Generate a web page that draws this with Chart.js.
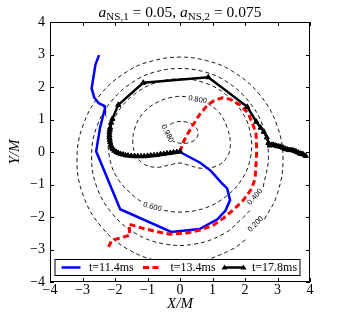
<!DOCTYPE html>
<html>
<head>
<meta charset="utf-8">
<script src="https://cdn.jsdelivr.net/npm/chart.js@4/dist/chart.umd.min.js"></script>
<style>
  html, body { margin: 0; padding: 0; background: #fff; }
</style>
</head>
<body>
<canvas id="chart" width="349" height="315"></canvas>
<script>
// axis range and ticks
const axisTicks = [-4, -3, -2, -1, 0, 1, 2, 3, 4];
const trackLabels = ['t=11.4ms', 't=13.4ms', 't=17.8ms'];

// star tracks, [x, y] in units of M
const track114 = [[-2.49,2.98],[-2.60,2.70],[-2.72,1.96],[-2.64,1.68],[-2.50,1.50],[-2.33,1.42],[-2.31,1.34],[-2.46,0.75],[-2.58,0.02],
  [-1.84,-1.76],[-0.27,-2.46],[0.60,-2.37],[1.15,-2.07],[1.40,-1.80],[1.54,-1.48],[1.45,-1.12],[1.27,-0.94],[0.95,-0.58],[0.62,-0.33],[0.0,0.0]];
const track134 = [[-2.20,-2.92],[-2.10,-2.72],[-1.54,-2.56],[-1.57,-2.22],[-1.10,-2.36],[-0.72,-2.45],[-0.31,-2.53],[0.21,-2.49],[0.62,-2.40],
  [1.03,-2.25],[1.33,-2.04],[1.64,-1.78],[1.95,-1.48],[2.21,-1.12],[2.31,-0.81],[2.34,-0.35],[2.36,0.06],[2.34,0.55],[2.26,0.80],
  [2.10,1.19],[1.85,1.45],[1.55,1.62],[1.30,1.67],[1.05,1.58],[0.85,1.45],[0.60,1.15],[0.38,0.80],[0.20,0.50],[0.08,0.25],[0.0,0.0]];
const track178 = [[0.0,0.02],[-0.1,0.0],[-0.2,-0.01],[-0.3,-0.03],[-0.4,-0.04],[-0.5,-0.06],[-0.6,-0.07],[-0.7,-0.09],[-0.8,-0.10],[-0.9,-0.11],
  [-1.0,-0.12],[-1.1,-0.13],[-1.2,-0.13],[-1.3,-0.13],[-1.4,-0.13],[-1.5,-0.12],[-1.6,-0.11],[-1.68,-0.10],[-1.75,-0.08],[-1.83,-0.06],
  [-1.9,-0.03],[-1.96,0.0],[-2.02,0.04],[-2.07,0.09],[-2.10,0.15],[-2.13,0.22],[-2.15,0.30],[-2.16,0.38],[-2.17,0.45],[-2.17,0.52],
  [-2.17,0.60],[-2.16,0.68],[-2.15,0.75],[-2.12,0.90],[-2.08,1.02],
  [-1.90,1.45],[-1.13,2.13],[0.87,2.30],[2.07,1.39],[2.35,0.93],[2.48,0.75],[2.58,0.62],[2.67,0.45],[2.72,0.28],[2.76,0.20],[2.82,0.22],
  [2.87,0.22],[2.93,0.20],[2.98,0.18],[3.04,0.17],[3.10,0.16],[3.17,0.13],[3.23,0.10],[3.29,0.08],[3.35,0.06],[3.41,0.06],[3.47,0.05],
  [3.53,0.03],[3.58,0.01],[3.64,-0.02],[3.70,-0.05],[3.75,-0.06],[3.80,-0.08],[3.87,-0.12]];

// density contours (open where the label sits)
const contour200 = [[2.60,-2.07],[2.98,-1.33],[3.17,-0.25],[2.98,0.83],[2.43,1.79],[1.59,2.50],[0.82,2.81],[0.00,2.92],[-0.82,2.81],
  [-1.59,2.50],[-2.43,1.79],[-2.98,0.83],[-3.17,-0.25],[-2.98,-1.33],[-2.43,-2.29],[-1.59,-3.00],[-0.55,-3.37],[0.55,-3.37],
  [1.59,-3.00],[2.04,-2.68]];
const contour400 = [[2.56,-1.08],[2.72,-0.15],[2.56,0.78],[2.08,1.60],[1.36,2.21],[0.70,2.48],[0.00,2.57],[-0.70,2.48],[-1.36,2.21],
  [-2.08,1.60],[-2.56,0.78],[-2.72,-0.15],[-2.56,-1.08],[-2.08,-1.90],[-1.36,-2.51],[-0.47,-2.83],[0.47,-2.83],[1.36,-2.51],
  [1.85,-2.10],[2.20,-1.75]];
const contour600 = [[-0.49,-1.80],[0.00,-1.85],[0.75,-1.73],[1.41,-1.37],[1.91,-0.83],[2.17,-0.16],[2.17,0.56],[1.91,1.23],[1.41,1.77],
  [0.75,2.13],[0.00,2.25],[-0.75,2.13],[-1.41,1.77],[-1.91,1.23],[-2.17,0.56],[-2.17,-0.16],[-1.91,-0.83],[-1.41,-1.37],[-1.20,-1.52]];
const contour800 = [[0.85,1.50],[1.20,1.22],[1.45,0.75],[1.55,0.25],[1.45,-0.15],[1.15,-0.42],[0.65,-0.50],[0.25,-0.40],[0.00,-0.34],
  [-0.25,-0.38],[-0.70,-0.47],[-1.10,-0.38],[-1.35,-0.12],[-1.45,0.25],[-1.40,0.70],[-1.15,1.18],[-0.70,1.53],[-0.15,1.70],[0.25,1.70]];
const contour980 = [[-0.30,0.85],[-0.10,0.93],[0.20,0.92],[0.45,0.80],[0.56,0.58],[0.45,0.37],[0.20,0.27],[0.00,0.27],[-0.22,0.33]];

// contour labels: text, x, y, rotation (deg)
const contourLabels = [['0.200', 2.33, -2.22, -45], ['0.400', 2.31, -1.38, -48], ['0.600', -0.85, -1.69, 15],
  ['0.800', 0.54, 1.61, 10], ['0.980', -0.39, 0.57, 63]];

const serif = "'Liberation Serif', 'DejaVu Serif', serif";
const pts = a => a.map(p => ({ x: p[0], y: p[1] }));
const fmt = v => String(v).replace('-', '\u2212');

const contourStyle = { borderColor: '#000', borderWidth: 0.9, borderDash: [4, 3], pointRadius: 0, tension: 0.4, showLine: true, order: 5 };

const decor = {
  id: 'decor',
  afterDraw(chart) {
    const { ctx, chartArea: a, scales: { x, y } } = chart;
    ctx.save();

    // contour labels
    ctx.fillStyle = '#000';
    ctx.font = "7.5px 'Liberation Sans', sans-serif";
    ctx.textAlign = 'center';
    ctx.textBaseline = 'middle';
    contourLabels.forEach(([t, lx, ly, rot]) => {
      ctx.save();
      ctx.translate(x.getPixelForValue(lx), y.getPixelForValue(ly));
      ctx.rotate(rot * Math.PI / 180);
      ctx.fillText(t, 0, 0);
      ctx.restore();
    });

    // legend inside the plot, bottom
    const lx0 = 55, ly0 = 259.5, lw = 245, lh = 16;
    ctx.fillStyle = '#fff';
    ctx.fillRect(lx0, ly0, lw, lh);
    ctx.strokeStyle = '#000';
    ctx.lineWidth = 1;
    ctx.strokeRect(lx0, ly0, lw, lh);
    const starts = [61.5, 143, 224.5];
    const ym = ly0 + lh / 2;
    chart.data.datasets.filter(d => trackLabels.includes(d.label)).forEach((d, i) => {
      const sx = starts[i];
      ctx.save();
      ctx.strokeStyle = d.borderColor;
      ctx.lineWidth = d.borderWidth;
      ctx.setLineDash(d.borderDash || []);
      ctx.beginPath();
      ctx.moveTo(sx, ym);
      ctx.lineTo(sx + 19, ym);
      ctx.stroke();
      ctx.restore();
      if (d.pointStyle === 'triangle') {
        [sx, sx + 19].forEach(px => {
          ctx.fillStyle = '#000';
          ctx.beginPath();
          ctx.moveTo(px, ym - 3);
          ctx.lineTo(px + 3, ym + 2);
          ctx.lineTo(px - 3, ym + 2);
          ctx.closePath();
          ctx.fill();
        });
      }
      ctx.fillStyle = '#000';
      ctx.font = '12px ' + serif;
      ctx.textAlign = 'left';
      ctx.textBaseline = 'middle';
      ctx.fillText(d.label, sx + 27.5, ym + 0.5);
    });

    // frame and inward ticks
    ctx.strokeStyle = '#000';
    ctx.lineWidth = 1;
    ctx.setLineDash([]);
    ctx.strokeRect(a.left + 0.5, a.top + 0.5, a.right - a.left - 1, a.bottom - a.top - 1);
    ctx.beginPath();
    axisTicks.forEach(v => {
      const px = Math.round(x.getPixelForValue(v)) + 0.5;
      ctx.moveTo(px, a.bottom); ctx.lineTo(px, a.bottom - 4);
      ctx.moveTo(px, a.top); ctx.lineTo(px, a.top + 4);
      const py = Math.round(y.getPixelForValue(v)) + 0.5;
      ctx.moveTo(a.left, py); ctx.lineTo(a.left + 4, py);
      ctx.moveTo(a.right, py); ctx.lineTo(a.right - 4, py);
    });
    ctx.stroke();

    // title with subscripts
    const parts = [['a', 'italic', 15.5, 0], ['NS,1', 'normal', 11, 3.5], [' = 0.05, ', 'normal', 15.5, 0],
      ['a', 'italic', 15.5, 0], ['NS,2', 'normal', 11, 3.5], [' = 0.075', 'normal', 15.5, 0]];
    let total = 0;
    parts.forEach(p => { ctx.font = `${p[1]} ${p[2]}px ${serif}`; total += ctx.measureText(p[0]).width; });
    let cx = (a.left + a.right) / 2 - total / 2;
    ctx.textAlign = 'left';
    ctx.textBaseline = 'alphabetic';
    ctx.fillStyle = '#000';
    parts.forEach(p => {
      ctx.font = `${p[1]} ${p[2]}px ${serif}`;
      ctx.fillText(p[0], cx, 16.5 + p[3]);
      cx += ctx.measureText(p[0]).width;
    });
    ctx.restore();
  }
};

new Chart(document.getElementById('chart'), {
  type: 'scatter',
  data: {
    datasets: [
      { label: trackLabels[0], data: pts(track114), borderColor: '#0000ff', borderWidth: 2.5, pointRadius: 0, showLine: true, order: 3 },
      { label: trackLabels[1], data: pts(track134), borderColor: '#ff0000', borderWidth: 3, borderDash: [6, 3.5], pointRadius: 0, showLine: true, order: 2 },
      { label: trackLabels[2], data: pts(track178), borderColor: '#000', borderWidth: 2.5, pointStyle: 'triangle', pointRadius: 3,
        pointBackgroundColor: '#000', pointBorderColor: '#000', pointBorderWidth: 1, showLine: true, order: 1 },
      ...[contour200, contour400, contour600, contour800, contour980].map(c => ({ label: '', data: pts(c), ...contourStyle }))
    ]
  },
  options: {
    responsive: false, animation: false, devicePixelRatio: 1,
    layout: { padding: { top: 22, right: 39, left: 0, bottom: 0 } },
    plugins: { legend: { display: false }, tooltip: { enabled: false } },
    scales: {
      x: {
        type: 'linear', min: -4, max: 4,
        afterFit(s) { s.height = 33; },
        afterBuildTicks(s) { s.ticks = axisTicks.map(v => ({ value: v })); },
        ticks: { padding: 0, color: '#000', font: { family: serif, size: 14 }, callback: fmt, autoSkip: false, maxRotation: 0 },
        grid: { display: false, drawTicks: false }, border: { display: false },
        title: { display: true, text: 'X/M', color: '#000', font: { family: serif, size: 15, style: 'italic' }, padding: { top: 0, bottom: 2 } }
      },
      y: {
        type: 'linear', min: -4, max: 4,
        afterFit(s) { s.width = 50; },
        afterBuildTicks(s) { s.ticks = axisTicks.map(v => ({ value: v })); },
        ticks: { padding: 5, color: '#000', font: { family: serif, size: 14 }, callback: fmt, autoSkip: false },
        grid: { display: false, drawTicks: false }, border: { display: false },
        title: { display: true, text: 'Y/M', color: '#000', font: { family: serif, size: 15, style: 'italic' }, padding: { top: 6, bottom: 0 } }
      }
    }
  },
  plugins: [decor]
});
</script>
</body>
</html>
